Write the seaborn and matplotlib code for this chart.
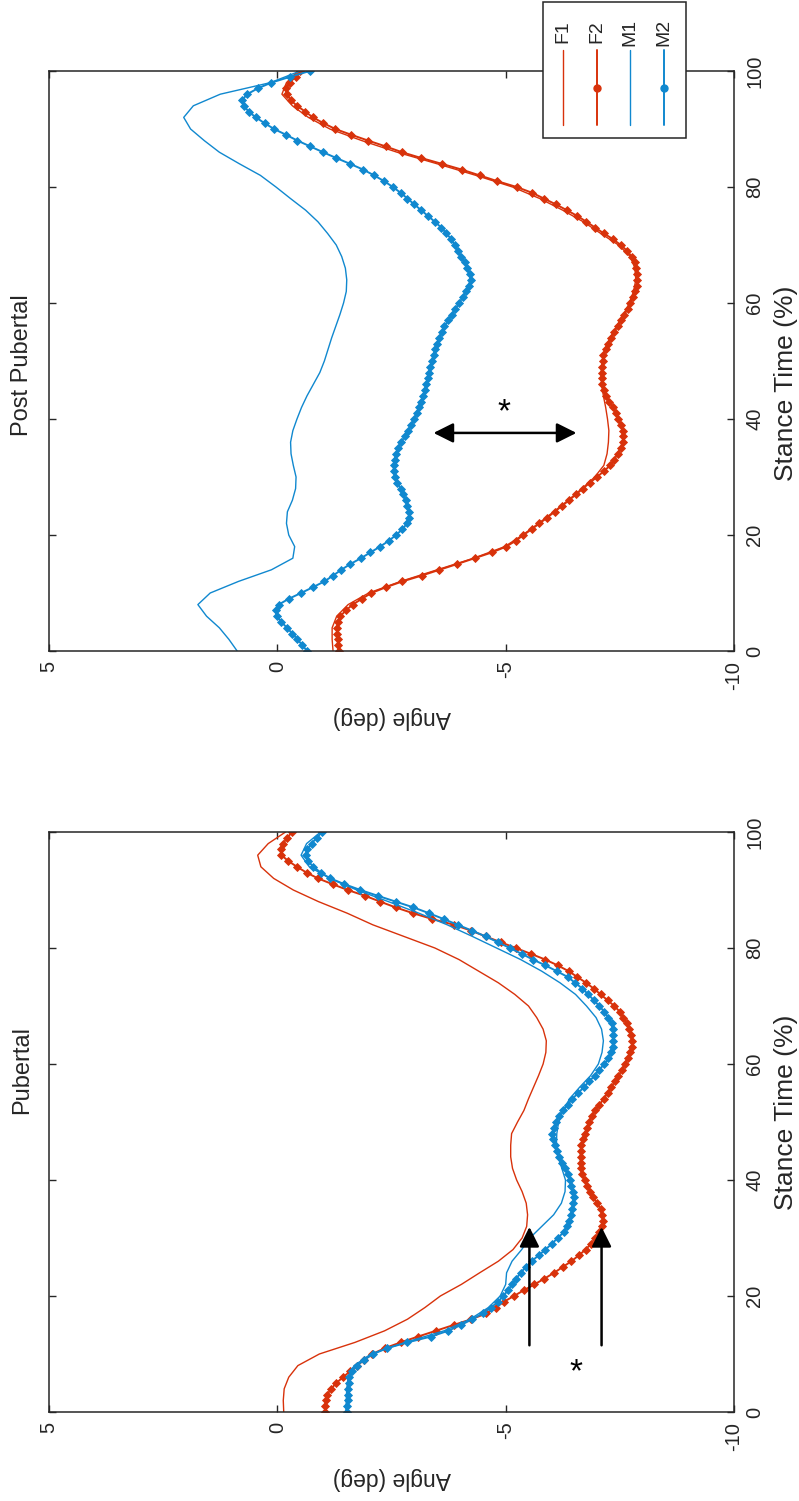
import matplotlib
matplotlib.use("Agg")
import matplotlib.pyplot as plt
import seaborn as sns
from matplotlib.lines import Line2D
from matplotlib.patches import Rectangle

# ---------------------------------------------------------------------------
# Data: joint angle (deg) over stance time (%)
# ---------------------------------------------------------------------------
stance_fine = list(range(0, 101))        # sampled every 1 %
stance_coarse = list(range(0, 101, 2))   # sampled every 2 %

# Post pubertal group
post_f1 = [-1.22, -1.20, -1.20, -1.30, -1.55, -2.00, -2.70, -3.50, -4.30, -4.98,
           -5.37, -5.72, -6.05, -6.37, -6.67, -6.95, -7.15, -7.22, -7.25, -7.26,
           -7.23, -7.19, -7.14, -7.10, -7.09, -7.11, -7.17, -7.29, -7.43, -7.58,
           -7.71, -7.80, -7.85, -7.83, -7.73, -7.47, -7.08, -6.70, -6.25, -5.75,
           -5.15, -4.35, -3.50, -2.62, -1.85, -1.15, -0.68, -0.33, -0.10, -0.20,
           -0.45]
post_f2 = [-1.34, -1.33, -1.32, -1.31, -1.31, -1.33, -1.38, -1.50, -1.65, -1.85,
           -2.06, -2.38, -2.74, -3.16, -3.55, -3.94, -4.32, -4.70, -5.01, -5.22,
           -5.39, -5.57, -5.74, -5.91, -6.07, -6.23, -6.39, -6.54, -6.69, -6.84,
           -7.00, -7.15, -7.29, -7.38, -7.45, -7.52, -7.56, -7.58, -7.56, -7.52,
           -7.47, -7.42, -7.35, -7.27, -7.19, -7.15, -7.12, -7.11, -7.11, -7.12,
           -7.13, -7.14, -7.19, -7.25, -7.31, -7.38, -7.45, -7.52, -7.60, -7.67,
           -7.73, -7.78, -7.83, -7.87, -7.88, -7.88, -7.86, -7.83, -7.76, -7.66,
           -7.52, -7.35, -7.15, -6.96, -6.77, -6.57, -6.34, -6.10, -5.84, -5.58,
           -5.24, -4.82, -4.43, -4.04, -3.60, -3.15, -2.73, -2.37, -1.99, -1.62,
           -1.27, -1.01, -0.78, -0.61, -0.43, -0.29, -0.21, -0.18, -0.27, -0.40,
           -0.50]
post_m1 = [0.88, 1.06, 1.27, 1.55, 1.74, 1.47, 0.85, 0.13, -0.34, -0.38,
           -0.25, -0.20, -0.22, -0.33, -0.40, -0.41, -0.35, -0.30, -0.29, -0.34,
           -0.43, -0.53, -0.65, -0.79, -0.93, -1.03, -1.11, -1.19, -1.28, -1.37,
           -1.45, -1.51, -1.52, -1.49, -1.41, -1.29, -1.10, -0.89, -0.62, -0.29,
           0.03, 0.37, 0.83, 1.27, 1.60, 1.90, 2.05, 1.84, 1.25, 0.15,
           -0.50]
post_m2 = [-0.65, -0.55, -0.44, -0.33, -0.21, -0.09, 0.01, 0.04, -0.03, -0.25,
           -0.52, -0.78, -1.03, -1.22, -1.40, -1.60, -1.83, -2.04, -2.25, -2.44,
           -2.60, -2.74, -2.84, -2.88, -2.88, -2.85, -2.81, -2.76, -2.70, -2.63,
           -2.58, -2.55, -2.55, -2.57, -2.60, -2.64, -2.71, -2.79, -2.86, -2.93,
           -3.00, -3.05, -3.10, -3.15, -3.19, -3.23, -3.26, -3.29, -3.32, -3.35,
           -3.38, -3.42, -3.46, -3.50, -3.55, -3.60, -3.66, -3.74, -3.82, -3.90,
           -3.98, -4.06, -4.13, -4.19, -4.23, -4.21, -4.16, -4.10, -4.02, -3.95,
           -3.88, -3.81, -3.70, -3.59, -3.45, -3.30, -3.15, -3.00, -2.85, -2.70,
           -2.53, -2.34, -2.12, -1.88, -1.59, -1.29, -1.00, -0.72, -0.44, -0.19,
           0.07, 0.28, 0.47, 0.63, 0.73, 0.77, 0.66, 0.43, 0.13, -0.28,
           -0.71]

# Pubertal group
pub_f1 = [-0.14, -0.13, -0.15, -0.25, -0.45, -0.92, -1.70, -2.35, -2.85, -3.23,
          -3.57, -4.03, -4.43, -4.84, -5.16, -5.36, -5.46, -5.48, -5.45, -5.36,
          -5.24, -5.15, -5.11, -5.11, -5.13, -5.26, -5.40, -5.50, -5.61, -5.72,
          -5.82, -5.88, -5.89, -5.82, -5.68, -5.50, -5.20, -4.84, -4.41, -3.98,
          -3.45, -2.77, -2.09, -1.53, -0.90, -0.35, 0.08, 0.36, 0.43, 0.20,
          -0.18]
pub_f2 = [-1.05, -1.05, -1.06, -1.09, -1.18, -1.29, -1.44, -1.59, -1.75, -1.90,
          -2.08, -2.35, -2.70, -3.08, -3.47, -3.86, -4.25, -4.58, -4.78, -4.96,
          -5.18, -5.40, -5.63, -5.85, -6.06, -6.25, -6.44, -6.60, -6.75, -6.87,
          -6.96, -7.04, -7.11, -7.14, -7.12, -7.08, -7.00, -6.92, -6.85, -6.79,
          -6.73, -6.68, -6.65, -6.64, -6.64, -6.64, -6.66, -6.69, -6.73, -6.78,
          -6.83, -6.88, -6.96, -7.05, -7.15, -7.23, -7.31, -7.39, -7.47, -7.55,
          -7.61, -7.67, -7.73, -7.77, -7.77, -7.75, -7.71, -7.65, -7.58, -7.50,
          -7.38, -7.23, -7.08, -6.93, -6.76, -6.57, -6.38, -6.14, -5.87, -5.55,
          -5.22, -4.89, -4.56, -4.24, -3.87, -3.39, -2.97, -2.59, -2.25, -1.92,
          -1.54, -1.21, -0.89, -0.64, -0.43, -0.24, -0.09, -0.07, -0.12, -0.22,
          -0.32]
pub_m1 = [-1.50, -1.51, -1.52, -1.55, -1.68, -2.05, -2.80, -3.65, -4.22, -4.62,
          -4.88, -5.00, -5.02, -5.14, -5.35, -5.53, -5.79, -6.05, -6.22, -6.30,
          -6.31, -6.23, -6.15, -6.11, -6.12, -6.16, -6.26, -6.40, -6.62, -6.86,
          -7.03, -7.11, -7.14, -7.10, -6.98, -6.77, -6.53, -6.19, -5.79, -5.33,
          -4.80, -4.27, -3.72, -3.10, -2.43, -1.74, -1.15, -0.70, -0.52, -0.64,
          -0.95]
pub_m2 = [-1.53, -1.53, -1.54, -1.55, -1.55, -1.56, -1.57, -1.63, -1.74, -1.90,
          -2.10, -2.40, -2.85, -3.36, -3.74, -4.02, -4.27, -4.50, -4.68, -4.83,
          -4.95, -5.05, -5.14, -5.23, -5.33, -5.44, -5.57, -5.72, -5.87, -6.01,
          -6.14, -6.27, -6.34, -6.39, -6.43, -6.46, -6.48, -6.49, -6.47, -6.44,
          -6.41, -6.36, -6.31, -6.24, -6.17, -6.12, -6.07, -6.03, -6.02, -6.05,
          -6.10, -6.16, -6.25, -6.36, -6.46, -6.59, -6.71, -6.83, -6.95, -7.05,
          -7.16, -7.25, -7.30, -7.34, -7.36, -7.36, -7.35, -7.32, -7.25, -7.16,
          -7.05, -6.93, -6.81, -6.68, -6.52, -6.36, -6.12, -5.87, -5.60, -5.35,
          -5.09, -4.83, -4.56, -4.26, -3.95, -3.64, -3.32, -2.98, -2.59, -2.20,
          -1.82, -1.47, -1.16, -0.95, -0.79, -0.67, -0.62, -0.66, -0.75, -0.86,
          -0.98]

groups = ["F1", "F2", "M1", "M2"]
angle_ticks = [5, 0, -5, -10]
angle_ticklabels = ["5", "0", "-5", "-10"]
stance_ticks = [0, 20, 40, 60, 80, 100]

# significance markers: (angle from, angle to, stance from, stance to)
post_span = (-3.42, -6.55, 37.6)
pub_arrows = [(-5.52, 11.5, 31.9), (-7.10, 11.5, 31.9)]

RED = "#D8320B"
BLUE = "#1088CF"
INK = "#262626"

style = {
    "F1": dict(color=RED, linewidth=1.0),
    "F2": dict(color=RED, linewidth=1.4, marker="D", markersize=3.6,
               markeredgewidth=0.6, markeredgecolor=RED),
    "M1": dict(color=BLUE, linewidth=1.0),
    "M2": dict(color=BLUE, linewidth=1.4, marker="D", markersize=3.6,
               markeredgewidth=0.6, markeredgecolor=BLUE),
}

sns.set_theme(style="white")
plt.rcParams["font.family"] = ["Liberation Sans", "DejaVu Sans"]

W, H = 799, 1501
fig = plt.figure(figsize=(W / 100, H / 100), dpi=100)


def rect_px(left, top, right, bottom):
    return [left / W, 1 - bottom / H, (right - left) / W, (bottom - top) / H]


ax_post = fig.add_axes(rect_px(49, 71, 734, 651))
ax_pub = fig.add_axes(rect_px(49, 832, 734, 1412))

panels = [
    (ax_post, "Post Pubertal", [post_f1, post_f2, post_m1, post_m2], 0.493, 0.462),
    (ax_pub, "Pubertal", [pub_f1, pub_f2, pub_m1, pub_m2], 0.590, 0.517),
]

for ax, title, series, title_y, ylab_y in panels:
    for name, values in zip(groups, series):
        stance = stance_fine if len(values) == len(stance_fine) else stance_coarse
        sns.lineplot(x=values, y=stance, orient="y", sort=False, estimator=None,
                     ax=ax, **style[name])

    ax.set_xlim(5, -10)
    ax.set_ylim(0, 100)
    ax.set_xticks(angle_ticks)
    ax.set_xticklabels(angle_ticklabels, rotation=90)
    ax.set_yticks(stance_ticks)
    ax.set_yticklabels([str(t) for t in stance_ticks], rotation=90, va="center")
    ax.tick_params(direction="in", length=5, width=1, colors=INK,
                   top=True, bottom=True, left=True, right=True,
                   labelleft=False, labelright=True, labelsize=14.5)
    ax.tick_params(axis="x", pad=7)
    ax.tick_params(axis="y", pad=8)
    for sp in ax.spines.values():
        sp.set_color(INK)
        sp.set_linewidth(1.1)

    ax.set_xlabel("Angle (deg)", fontsize=16.5, rotation=180, color=INK)
    ax.xaxis.label.set_va("center")
    ax.xaxis.set_label_coords(0.5, -0.114)

    ax.set_ylabel("Stance Time (%)", fontsize=19, color=INK)
    ax.yaxis.set_label_position("right")
    ax.yaxis.label.set_rotation(90)
    ax.yaxis.label.set_rotation_mode("default")
    ax.yaxis.label.set_ha("center")
    ax.yaxis.label.set_va("center")
    ax.yaxis.set_label_coords(1.076, ylab_y)

    ax.set_title(title, rotation=90, x=-0.039, y=title_y, pad=0,
                 fontsize=17, color=INK, ha="center", va="center")

# significance annotations
arrow_kw = dict(color="black", lw=1.8, shrinkA=0, shrinkB=0, mutation_scale=15)
a0, a1, s_mid = post_span
ax_post.annotate("", xy=(a1, s_mid), xytext=(a0, s_mid),
                 arrowprops=dict(arrowstyle="<|-|>,head_length=0.8,head_width=0.4", **arrow_kw))
ax_post.text(-4.97, 41.0, "*", fontsize=24, ha="center", va="center", color="black")
for ang, s0, s1 in pub_arrows:
    ax_pub.annotate("", xy=(ang, s1), xytext=(ang, s0),
                    arrowprops=dict(arrowstyle="-|>,head_length=0.8,head_width=0.4", **arrow_kw))
ax_pub.text(-6.55, 6.7, "*", fontsize=24, ha="center", va="center", color="black")

# legend drawn as a rotated box above the upper panel
fig.add_artist(Rectangle((543 / W, 1 - 138 / H), (686 - 543) / W, (138 - 2) / H,
                         transform=fig.transFigure, facecolor="white",
                         edgecolor=INK, linewidth=1.1, zorder=5))
legend_x = [563, 597, 630, 664]
for name, xpix in zip(groups, legend_x):
    st = style[name]
    fx = xpix / W
    fig.add_artist(Line2D([fx, fx], [1 - 50 / H, 1 - 125 / H], transform=fig.transFigure,
                          color=st["color"], linewidth=st["linewidth"], zorder=6))
    if "marker" in st:
        fig.add_artist(Line2D([fx], [1 - 88 / H], transform=fig.transFigure, marker="o",
                              markersize=5, color=st["color"], linestyle="none", zorder=6))
    fig.text(fx, 1 - 32 / H, name, rotation=90, ha="center", va="center",
             fontsize=14, color=INK, zorder=6)

fig.savefig("out.png", dpi=100, facecolor="white")
